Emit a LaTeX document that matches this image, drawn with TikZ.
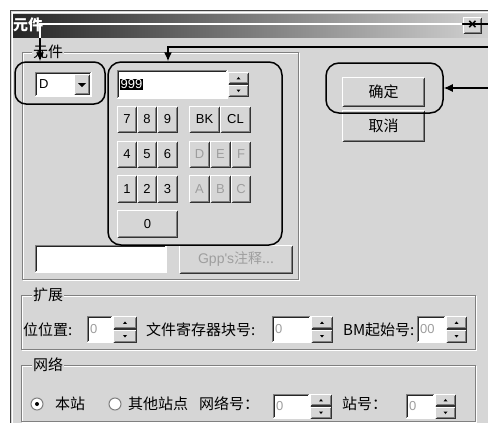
\documentclass[tikz,border=0pt]{standalone}
\usepackage{fontspec}
\setmainfont{Noto Sans CJK SC}
\newfontfamily\lat{Liberation Sans}
\usetikzlibrary{arrows.meta}
\definecolor{bg}{gray}{0.84}
\definecolor{dk}{gray}{0.5}
\definecolor{dis}{gray}{0.62}
\tikzset{
 rbox/.style={fill=bg, inner sep=0pt, outer sep=0pt, font=\lat\fontsize{13}{13}\selectfont},
 sbox/.style={fill=white, inner sep=0pt, outer sep=0pt},
 hl/.style={draw=black, line width=1.5pt, rounded corners=11pt},
 arr/.style={line width=1.3pt, -{Latex[length=9pt,width=8pt]}},
 lbl/.style={anchor=west, inner sep=0pt, font=\fontsize{15}{15}\selectfont},
 fval/.style={anchor=west, inner sep=0pt, text=dis, font=\lat\fontsize{13}{13}\selectfont},
 glbl/.style={anchor=west, inner sep=1pt, fill=bg, font=\fontsize{15}{15}\selectfont},
 etch1/.style={draw=dk, line width=1pt},
 etch2/.style={draw=white, line width=1pt}
}
\newcommand\rbtn[6]{%
 \node[rbox, minimum width={#4-#2}, minimum height={#5-#3}] (#1) at ({(#2+#4)/2},{(#3+#5)/2}) {#6};
 \draw[white, line width=1.2pt] ([shift={(0.6pt,0.6pt)}]#1.south west) |- ([shift={(-0.6pt,-0.6pt)}]#1.north east);
 \draw[black!80, line width=1.2pt] ([shift={(0.6pt,0.6pt)}]#1.south west) -| ([shift={(-0.6pt,-0.6pt)}]#1.north east);
 \draw[dk, line width=1pt] ([shift={(1.8pt,1.7pt)}]#1.south west) -| ([shift={(-1.7pt,-1.8pt)}]#1.north east);
}
\newcommand\sfld[5]{%
 \node[sbox, minimum width={#4-#2}, minimum height={#5-#3}] (#1) at ({(#2+#4)/2},{(#3+#5)/2}) {};
 \draw[white, line width=1.2pt] ([shift={(0.6pt,0.6pt)}]#1.south west) -| ([shift={(-0.6pt,-0.6pt)}]#1.north east);
 \draw[dk, line width=1.2pt] ([shift={(0.6pt,0.6pt)}]#1.south west) |- ([shift={(-0.6pt,-0.6pt)}]#1.north east);
 \draw[black!85, line width=1.2pt] ([shift={(1.8pt,1.8pt)}]#1.south west) |- ([shift={(-1.8pt,-1.8pt)}]#1.north east);
}
\newcommand\spinb[5]{%
 \pgfmathsetmacro\spmid{(#3+#5)/2}%
 \rbtn{#1u}{#2}{#3}{#4}{\spmid}{}
 \rbtn{#1d}{#2}{\spmid}{#4}{#5}{}
 \fill ([shift={(-2pt,-1.2pt)}]#1u.center) -- ([shift={(2pt,-1.2pt)}]#1u.center) -- ([shift={(0pt,1.3pt)}]#1u.center) -- cycle;
 \fill ([shift={(-2pt,1.2pt)}]#1d.center) -- ([shift={(2pt,1.2pt)}]#1d.center) -- ([shift={(0pt,-1.3pt)}]#1d.center) -- cycle;
}
\begin{document}
\begin{tikzpicture}[x=1pt,y=-1pt]
\useasboundingbox (0,0) rectangle (488,423);
\fill[white] (0,0) rectangle (488,423);
% window
\fill[bg] (10,10) rectangle (488,423);
\draw[black!75, line width=1pt] (10.5,423) -- (10.5,10.5) -- (488,10.5);
\draw[white, line width=1pt] (12,423) -- (12,12) -- (488,12);
\shade[left color=black!85, right color=black!18] (13,14) rectangle (488,37);
\node[anchor=west, inner sep=0pt, text=white, font=\bfseries\fontsize{15}{15}\selectfont] (ttl) at (13,25) {元件};
\rbtn{cls}{463}{17}{482}{34}{\bfseries\fontsize{15}{15}\selectfont ×}

% group 元件
\draw[etch2] (23,53) rectangle (299,280);
\draw[etch1] (22,52) rectangle (298,279);
\node[glbl] (g1) at (32,52) {元件};

% combobox
\sfld{cmb}{35}{72}{92}{97}
\node[fval, text=black] (cmbt) at ([xshift=4pt]cmb.west) {D};
\rbtn{cmbb}{74}{74}{90}{95}{}
\fill ([shift={(-4pt,1.5pt)}]cmbb.center) -- ([shift={(4pt,1.5pt)}]cmbb.center) -- ([shift={(0pt,-2.5pt)}]cmbb.center) -- cycle;

% 999 field
\sfld{f999}{117}{70}{228}{99}
\node[anchor=west, inner sep=1pt, fill=black, text=white, font=\lat\fontsize{13}{13}\selectfont] (t999) at ([xshift=2.5pt]f999.west) {999};
\spinb{sp0}{228}{72}{249}{97}

% keypad
\rbtn{k7}{117}{106}{137}{133}{7}
\rbtn{k8}{137}{106}{157}{133}{8}
\rbtn{k9}{157}{106}{178}{133}{9}
\rbtn{kbk}{189}{106}{220}{133}{BK}
\rbtn{kcl}{220}{106}{251}{133}{CL}
\rbtn{k4}{117}{141}{137}{168}{4}
\rbtn{k5}{137}{141}{157}{168}{5}
\rbtn{k6}{157}{141}{178}{168}{6}
\rbtn{kd}{189}{141}{210}{168}{\textcolor{dis}{D}}
\rbtn{ke}{210}{141}{231}{168}{\textcolor{dis}{E}}
\rbtn{kf}{231}{141}{251}{168}{\textcolor{dis}{F}}
\rbtn{k1}{117}{175}{137}{203}{1}
\rbtn{k2}{137}{175}{157}{203}{2}
\rbtn{k3}{157}{175}{178}{203}{3}
\rbtn{ka}{189}{175}{210}{203}{\textcolor{dis}{A}}
\rbtn{kb}{210}{175}{231}{203}{\textcolor{dis}{B}}
\rbtn{kc}{231}{175}{251}{203}{\textcolor{dis}{C}}
\rbtn{k0}{117}{210}{178}{238}{0}

% comment field and button
\sfld{cmt}{35}{245}{167}{273}
\rbtn{gpp}{179}{245}{293}{274}{\textcolor{dis}{\fontsize{14}{14}\selectfont Gpp's\normalfont\fontsize{14}{14}\selectfont 注释...}}

% OK / Cancel
\rbtn{ok}{342}{77}{425}{107}{\normalfont\fontsize{15}{15}\selectfont 确定}
\rbtn{cancel}{342}{110}{425}{142}{\normalfont\fontsize{15}{15}\selectfont 取消}

% group 扩展
\draw[etch2] (22,296) rectangle (476,350);
\draw[etch1] (21,295) rectangle (475,349);
\node[glbl] (g2) at (32,295) {扩展};
\node[lbl] (l1) at (23,330) {位位置:};
\sfld{e1}{87}{316}{113}{343}
\node[fval] (e1t) at ([xshift=3pt]e1.west) {0};
\spinb{sp1}{113}{316}{137}{343}
\node[lbl] (l2) at (146,330) {文件寄存器块号:};
\sfld{e2}{272}{316}{311}{343}
\node[fval] (e2t) at ([xshift=3pt]e2.west) {0};
\spinb{sp2}{311}{316}{333}{343}
\node[lbl] (l3) at (343,330) {BM起始号:};
\sfld{e3}{417}{316}{446}{343}
\node[fval] (e3t) at ([xshift=3pt]e3.west) {00};
\spinb{sp3}{446}{316}{467}{343}

% group 网络
\draw[etch2] (22,366) rectangle (476,422);
\draw[etch1] (21,365) rectangle (475,421);
\node[glbl] (g3) at (32,365) {网络};
\node[circle, fill=white, draw=dk, line width=1pt, minimum size=12pt, inner sep=0pt] (r1) at (37,404) {};
\fill (r1.center) circle (2pt);
\node[lbl] (l4) at (55,404) {本站};
\node[circle, fill=white, draw=dk, line width=1pt, minimum size=12pt, inner sep=0pt] (r2) at (115,404) {};
\node[lbl] (l5) at (128,404) {其他站点};
\node[lbl] (l6) at (199,404) {网络号：};
\sfld{n1}{273}{394}{310}{419}
\node[fval] (n1t) at ([xshift=3pt]n1.west) {0};
\spinb{sp4}{310}{394}{332}{419}
\node[lbl] (l7) at (342,404) {站号：};
\sfld{n2}{406}{394}{435}{419}
\node[fval] (n2t) at ([xshift=3pt]n2.west) {0};
\spinb{sp5}{435}{394}{456}{419}

% highlights
\node[hl, minimum width=90pt, minimum height=42pt, inner sep=0pt] (hl1) at (60,83) {};
\node[hl, rounded corners=13pt, minimum width=174pt, minimum height=183pt, inner sep=0pt] (hl2) at (195,153.5) {};
\node[hl, rounded corners=13pt, minimum width=117pt, minimum height=50pt, inner sep=0pt] (hl3) at (384.5,88) {};

% connectors
\coordinate (s1) at (488,24);
\coordinate (b1) at (40,24);
\draw[arr] (s1) -- (b1) -- (b1 |- hl1.north);
\begin{scope}
\clip (11,13) rectangle (462,37);
\draw[white, line width=1.3pt] (s1) -- (b1) -- (b1 |- hl1.north);
\end{scope}
\coordinate (s2) at (488,47);
\coordinate (b2) at (168,47);
\draw[arr] (s2) -- (b2) -- (b2 |- hl2.north);
\coordinate (s3) at (488,88);
\draw[arr] (s3) -- (s3 -| hl3.east);
\end{tikzpicture}
\end{document}
